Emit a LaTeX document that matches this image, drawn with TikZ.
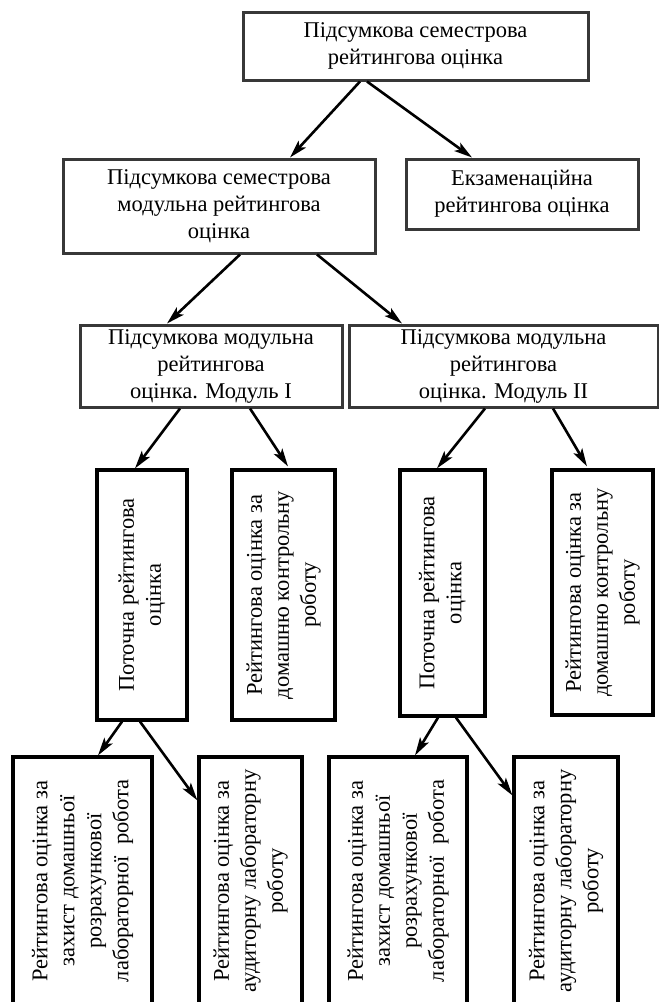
\documentclass[tikz,border=0pt]{standalone}
\usepackage{fontspec}
\setmainfont{Liberation Serif}
\usepackage{graphicx}
\usetikzlibrary{arrows.meta}
\newcommand{\vtext}[1]{\rotatebox{90}{\begin{tabular}{@{}c@{}}#1\end{tabular}}}
\begin{document}
\begin{tikzpicture}[x=1pt,y=1pt,
  hbox/.style={draw=black!78, line width=3pt, inner sep=0pt, align=center,
    font=\fontsize{22.5}{27}\selectfont},
  vbox/.style={draw=black, line width=3.2pt, inner sep=0pt,
    font=\fontsize{22.5}{27}\selectfont},
  arr/.style={line width=2.6pt, -{Stealth[length=18pt,width=10pt,inset=4pt]}}]
\useasboundingbox (0,0) rectangle (659,-1002);
\clip (0,0) rectangle (659,-1002);
% level 1
\node[hbox, minimum width=345pt, minimum height=68pt] (b1) at (415.5,-46) {Підсумкова семестрова\\рейтингова оцінка};
% level 2
\node[hbox, minimum width=312pt, minimum height=94pt] (b2) at (219,-206) {Підсумкова семестрова\\модульна рейтингова\\оцінка};
\node[hbox, minimum width=232pt, minimum height=70pt] (b3) at (522,-194) {Екзаменаційна\\рейтингова оцінка};
% level 3
\node[hbox, minimum width=262pt, minimum height=82pt] (m1) at (211,-366) {Підсумкова модульна\\рейтингова\\оцінка. Модуль I};
\node[hbox, minimum width=309pt, minimum height=82pt] (m2) at (503.5,-366) {Підсумкова модульна\\рейтингова\\оцінка. Модуль II};
% level 4
\node[vbox, minimum width=90pt, minimum height=250pt] (p1) at (142,-595) {\vtext{Поточна рейтингова\\оцінка}};
\node[vbox, minimum width=103pt, minimum height=250pt] (d1) at (283.5,-595) {\vtext{Рейтингова оцінка за\\домашню контрольну\\роботу}};
\node[vbox, minimum width=85pt, minimum height=246pt] (p2) at (442.5,-593) {\vtext{Поточна рейтингова\\оцінка}};
\node[vbox, minimum width=101pt, minimum height=245pt] (d2) at (602.5,-592.5) {\vtext{Рейтингова оцінка за\\домашню контрольну\\роботу}};
% level 5
\node[vbox, minimum width=139pt, minimum height=248pt] (l1) at (82.5,-881) {\vtext{Рейтингова оцінка за\\захист домашньої\\розрахункової\\лабораторної\ \ робота}};
\node[vbox, minimum width=103pt, minimum height=248pt] (a1) at (250.5,-881) {\vtext{Рейтингова оцінка за\\аудиторну лабораторну\\роботу}};
\node[vbox, minimum width=138pt, minimum height=248pt] (l2) at (398,-881) {\vtext{Рейтингова оцінка за\\захист домашньої\\розрахункової\\лабораторної\ \ робота}};
\node[vbox, minimum width=104pt, minimum height=248pt] (a2) at (566,-881) {\vtext{Рейтингова оцінка за\\аудиторну лабораторну\\роботу}};
% arrows
\draw[arr] ([xshift=-55.5pt]b1.south) -- ([xshift=71pt]b2.north);
\draw[arr] ([xshift=-48.5pt]b1.south) -- ([xshift=-50pt]b3.north);
\draw[arr] ([xshift=21pt]b2.south) -- ([xshift=-44pt]m1.north);
\draw[arr] ([xshift=98pt]b2.south) -- ([xshift=-101.5pt]m2.north);
\draw[arr] ([xshift=-31pt]m1.south) -- ([xshift=-7pt]p1.north);
\draw[arr] ([xshift=39pt]m1.south) -- ([xshift=4.5pt,yshift=2pt]d1.north);
\draw[arr] ([xshift=-18.5pt]m2.south) -- ([xshift=-5.5pt]p2.north);
\draw[arr] ([xshift=49.5pt]m2.south) -- ([xshift=-15.5pt,yshift=2pt]d2.north);
\draw[arr] ([xshift=-20pt]p1.south) -- ([xshift=15.5pt]l1.north);
\draw[arr] ([xshift=-2pt]p1.south) -- ([yshift=-45pt]a1.north west);
\draw[arr] ([xshift=-4.5pt]p2.south) -- ([xshift=17pt]l2.north);
\draw[arr] ([xshift=13.5pt]p2.south) -- ([yshift=-40pt]a2.north west);
\end{tikzpicture}
\end{document}
